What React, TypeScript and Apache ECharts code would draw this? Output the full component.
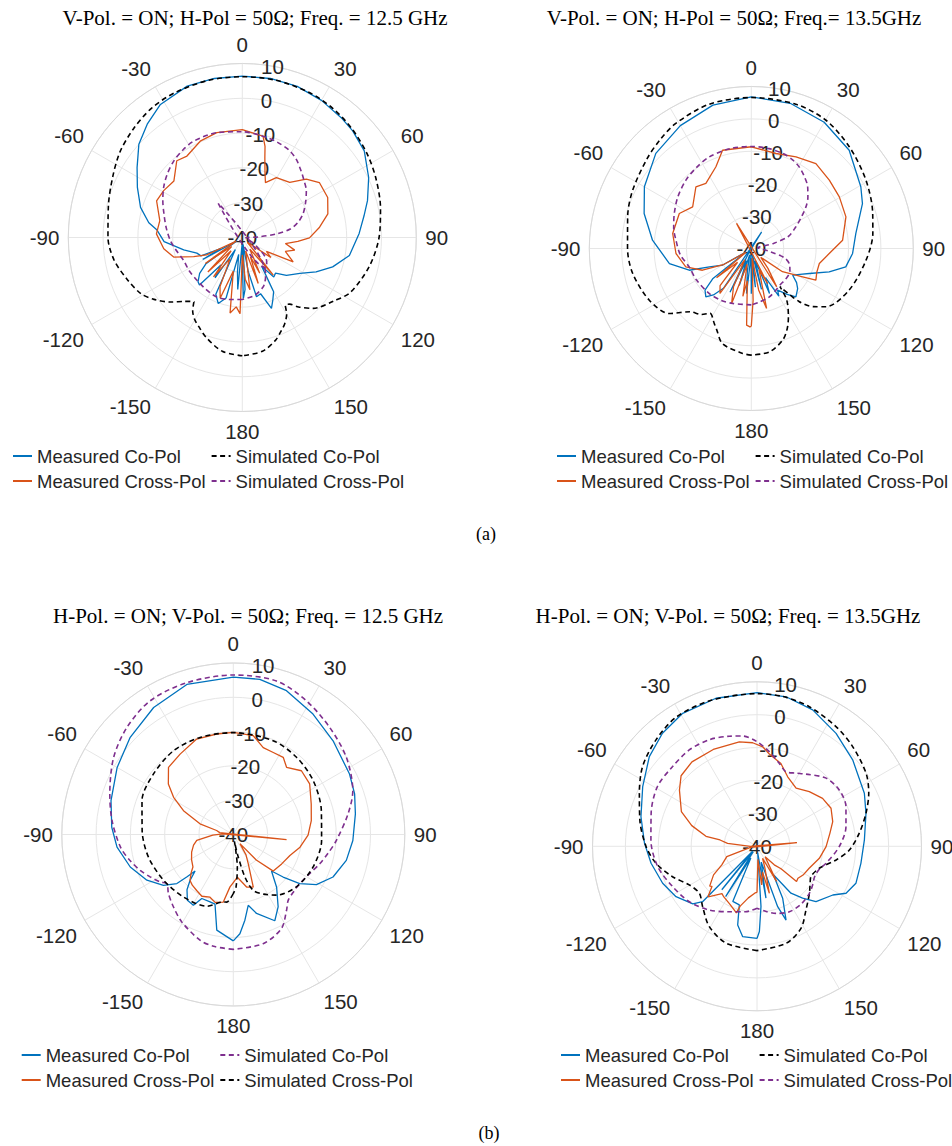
import { useEffect, useRef } from 'react';
import * as echarts from 'echarts';

// [angle (deg, clockwise from top), level (dB)]
type Pt = [number, number];

const ANGLE_MIN = -180;
const ANGLE_MAX = 180;
const ANGLE_STEP = 30;
const DB_MIN = -40;
const DB_MAX = 10;
const DB_STEP = 10;

const LEGEND_ORDER = ['Measured Co-Pol', 'Measured Cross-Pol', 'Simulated Co-Pol', 'Simulated Cross-Pol'];

// ---------- Panel 1: V-Pol ON, 12.5 GHz ----------
const p1MeasCo: Pt[] = [[-180,-33],[-178,-38],[-175,-25],[-172,-30],[-168,-35],[-165,-22],[-160,-19.8],[-155,-22],[-150,-36],[-146,-26],[-142,-30],[-138,-21.6],[-135,-22],[-130,-24],[-126,-27],[-122,-38],[-119,-27],[-117,-33],[-114,-27],[-109,-26.2],[-102,-22.8],[-93,-17.5],[-85,-15.4],[-81,-12.8],[-73.5,-9.5],[-64.5,-6.6],[-56.4,-3.7],[-48,0],[-40,2.5],[-31.6,4.9],[-20,6.3],[-10,6.4],[0,6.4],[10,6.4],[20,6.2],[30,5.5],[40,4.6],[46,4.1],[54.6,3],[64.6,0.2],[73.6,-2.5],[80,-4.5],[88,-6.4],[99.5,-8.8],[108,-12.7],[115,-16.6],[122,-20.5],[130.6,-23.3],[137,-26],[141.4,-25.5],[146,-30],[150,-22],[154,-20],[157.6,-18],[162,-23],[166.5,-22.5],[170,-30],[174,-38],[177,-25],[179,-22.5],[180,-33]];
const p1SimCo: Pt[] = [[-180,-6],[-170,-6.8],[-160,-9.5],[-154,-11.5],[-150,-12.7],[-146,-14.5],[-143,-16.9],[-138,-15.3],[-132,-12.3],[-125,-9],[-119,-6.7],[-110,-4.8],[-100,-2.6],[-90,-1.4],[-77,-0.5],[-65,1.1],[-55,2.9],[-45,4.2],[-35,5.4],[-25,5.9],[-12,6.2],[0,6.2],[12,6.2],[25,5.9],[35,5.3],[45,4.4],[56,3.2],[66,2],[78,0.6],[90,-0.7],[103,-2.6],[117,-5.2],[125,-8.1],[135,-11.2],[141,-14.3],[144.6,-16.5],[147.5,-17],[150,-14.5],[154,-12.3],[157,-11.1],[162,-9],[170,-6.8],[180,-6]];
const p1MeasX: Pt[] = [[-180,-35],[-178.3,-18.1],[-175,-20],[-170.8,-18],[-165,-30],[-160,-21.4],[-155.6,-24.5],[-150,-33],[-143.8,-26],[-140,-35],[-135,-26],[-130,-36],[-125,-27],[-120,-38],[-116,-28.6],[-111.5,-25],[-105.9,-19.5],[-98.2,-17.2],[-87.6,-15.3],[-78.4,-15.8],[-66.8,-13.2],[-59.2,-13.7],[-50.4,-14.5],[-40.5,-11],[-34.2,-11.7],[-23.6,-9.8],[-13.7,-9],[0,-9],[11.6,-10.3],[14,-13],[15.8,-16.2],[19,-20],[22.9,-22.9],[29.6,-20.2],[40.7,-19.1],[47.6,-15.1],[54.5,-12.8],[64.9,-12.9],[74.6,-14.5],[82.4,-17.6],[90.3,-20.7],[94,-24],[98,-27.5],[103.5,-24.5],[108,-27],[115.5,-23.8],[120,-32],[125,-30],[133,-38],[140.5,-26],[147,-36],[153.9,-28.6],[157,-34],[160.9,-26],[166,-36],[171.7,-24.8],[176,-28],[180,-35]];
const p1SimX: Pt[] = [[-180,-22.2],[-168,-21.8],[-156.7,-21.4],[-145,-21.8],[-133.3,-22.1],[-122,-22],[-111.3,-21.9],[-100,-20.5],[-92.4,-19.3],[-83,-18],[-73.3,-16.5],[-65,-14.8],[-57.5,-13.2],[-50,-11.8],[-41.9,-10.5],[-34,-9.6],[-26.8,-9],[-13.7,-9],[0,-9.6],[10,-10.2],[20,-10.8],[28.7,-11.6],[35,-12.8],[41.5,-14.5],[47,-15.8],[53.8,-17.2],[61,-19.2],[68.8,-21.3],[75,-23.5],[80,-26],[84,-30],[88,-35.5],[95,-39],[105,-38.5],[115,-37],[125,-34],[131,-31],[138,-29.5],[142,-29],[144.8,-52],[147.5,-27.5],[152,-26],[157,-24.6],[168,-23],[180,-22.2]];

// ---------- Panel 2: V-Pol ON, 13.5 GHz ----------
const p2MeasCo: Pt[] = [[-180,-26],[-178,-38],[-174,-26],[-170,-33],[-166,-38],[-162,-28],[-158,-36],[-154,-25],[-150,-38],[-148,-46],[-145,-25],[-140.8,-21.5],[-136.8,-19.5],[-131.9,-20.8],[-128,-25],[-124,-38],[-120,-29.8],[-113.6,-25.9],[-109.3,-19.7],[-100.4,-14.3],[-85.2,-9.4],[-71.9,-5.2],[-60,-1.9],[-45.1,1.6],[-30,3.8],[-15,5.8],[0,6.8],[15,6.4],[30,5],[44.9,2.8],[60.6,-1.2],[68,-3],[81.8,-7.4],[92.8,-8.7],[101,-10.3],[106.7,-14.9],[113.3,-20.5],[118,-23],[122.8,-24.8],[127,-22.5],[130.8,-21.1],[137.3,-19.7],[142,-22],[147.7,-24.8],[150,-23],[154,-30],[158,-25],[162,-36],[166,-27],[170,-38],[174,-28],[178,-37],[180,-26]];
const p2SimCo: Pt[] = [[-180,-7.1],[-175.3,-7.5],[-163.2,-9.3],[-157,-12.7],[-153.7,-14.2],[-147.5,-16.3],[-143,-14.5],[-135.9,-12.8],[-128.4,-7.7],[-116.9,-4.7],[-101.9,-2.6],[-90,-1.8],[-75.6,-0.6],[-63.8,0.8],[-49,2.5],[-40,3.8],[-31.1,5.1],[-16.2,6.4],[0,6.6],[17.1,6.6],[30.2,5.8],[43.9,3.6],[59.2,1.2],[73.9,-1],[82.9,-2.2],[95.8,-4.4],[113,-7.2],[128,-10.8],[133.2,-13.8],[138,-18],[143.1,-25.3],[145.5,-20.7],[151.5,-16],[156,-12.8],[161.1,-10.1],[170.1,-7.6],[180,-7.1]];
const p2MeasX: Pt[] = [[-180,-16],[-179,-15.8],[-176.5,-16.3],[-173,-30],[-170,-25],[-165,-35],[-160.3,-22],[-155,-27],[-150,-36],[-145.1,-23.1],[-140,-25],[-135,-34],[-130,-26],[-125,-38],[-120,-30],[-114,-23.5],[-105.7,-19],[-93.8,-16.7],[-79.2,-15.3],[-64.1,-15.3],[-54.6,-17.8],[-41.9,-14.4],[-34.9,-15.5],[-23.4,-12.5],[-16.3,-8.4],[0,-8.6],[14.6,-9.7],[26,-8.5],[37.3,-7.1],[48.8,-8],[59.6,-8.5],[71.5,-9.2],[84.8,-11.7],[93.7,-15.9],[102.4,-18.5],[110,-18.5],[116.1,-17.8],[118.9,-21.9],[126.7,-28],[133,-36],[140,-32],[146.5,-25.8],[149.6,-49],[155,-28],[160,-33],[165.7,-20.9],[170,-27],[175,-37],[178,-24],[180,-16]];
const p2SimX: Pt[] = [[-180,-22.6],[-161.3,-22.1],[-150,-21.5],[-137,-21],[-120,-20.5],[-106.5,-20],[-95,-18],[-83.7,-16.6],[-75,-15.2],[-65.6,-13.9],[-55,-12.3],[-43.7,-10.8],[-34,-9.8],[-24.6,-8.9],[-12,-8.5],[0,-8.5],[10,-8.7],[18.3,-9.1],[25,-9.8],[30.4,-10.8],[36,-12.3],[42.4,-14.2],[48,-16.5],[52.7,-18.8],[58,-21.8],[64,-24.7],[72,-28],[77,-33],[85,-38],[92,-37],[99.7,-34],[106,-29.2],[114,-27],[121,-26.1],[132,-25.8],[141.8,-25.7],[150,-25],[160,-24],[171.5,-23.3],[180,-22.6]];

// ---------- Panel 3: H-Pol ON, 12.5 GHz ----------
const p3MeasCo: Pt[] = [[-180,-9],[-170.2,-11.7],[-165.3,-19],[-161,-19.2],[-153.8,-19.2],[-150.6,-16.3],[-145.1,-16.6],[-140,-19],[-136.7,-21.6],[-133.7,-24.6],[-132.4,-21.6],[-131,-18.2],[-126.1,-14.8],[-117.9,-11.5],[-107.5,-8.5],[-96.2,-5.9],[-86.6,-4.5],[-74.5,-3],[-60,-0.9],[-46.7,1.3],[-32.1,3.7],[-17.2,5.8],[0,5.9],[9.7,5.9],[20.3,4.7],[33.5,2.1],[46.8,-0.1],[62.5,-1.8],[71.5,-2.7],[80.4,-3.9],[92.9,-5.1],[102.9,-6.2],[113.1,-8.4],[121.1,-11.7],[126.5,-15.9],[130.5,-20.9],[133.7,-24.6],[140.6,-20.1],[148.2,-15.2],[154.3,-12.1],[163.6,-16],[168.1,-18.9],[172.3,-14.8],[176.2,-11],[180,-9]];
const p3SimCo: Pt[] = [[-180,-6.5],[-170,-6.9],[-162.5,-7.7],[-149.5,-10.4],[-140.5,-12.6],[-132.4,-14.4],[-126.5,-15.9],[-123,-14.6],[-117,-12.8],[-111.1,-10.9],[-104,-8.9],[-96.4,-6.9],[-83.4,-4.4],[-71.8,-2.1],[-57.2,1.5],[-44.8,4],[-31.9,5.9],[-17,6.3],[0,6.5],[15.7,6.5],[28.7,4.4],[42,2],[55.7,-0.1],[69.9,-2.9],[79.8,-6],[93.3,-9.9],[101,-11.8],[108.7,-13.4],[117.2,-15],[126.5,-15.9],[133,-15.8],[140.2,-15],[144.9,-13],[152.9,-9.2],[164.7,-7],[180,-6.5]];
const p3MeasX: Pt[] = [[-180,-26],[-176.4,-24.7],[-171.6,-20.1],[-165,-19.5],[-159.6,-20.5],[-153,-19.8],[-146.8,-20.5],[-141,-21],[-136.7,-21.6],[-132,-23.5],[-128.8,-24.9],[-121,-25.8],[-113,-26.8],[-105,-28],[-99.3,-29.2],[-92,-34],[-86.5,-37],[-84.6,-55.6],[-82,-36],[-76.5,-35],[-72.3,-29.8],[-64.4,-23.9],[-58.1,-19.5],[-52.1,-16],[-44,-12.8],[-33.5,-11.9],[-21,-10.2],[-9.4,-10.3],[0,-10.2],[11.4,-10.6],[19,-13.2],[26,-13.4],[32.9,-13.2],[38.4,-15],[46.9,-12.8],[56.5,-13.3],[68.6,-15.6],[79.9,-16.9],[90.5,-18.2],[100.8,-20.2],[110.3,-22.4],[121.3,-23.5],[132.5,-24.2],[138,-30],[144,-36.7],[148,-33],[152.9,-30.4],[159.2,-23.6],[165.8,-24.2],[170,-26],[174.6,-27.5],[180,-26]];
const p3SimX: Pt[] = [[-180,-22.8],[-174.4,-20.2],[-171.6,-20.1],[-159.7,-17.7],[-141.4,-16.7],[-123.3,-15.7],[-104.9,-14.4],[-87.5,-13.4],[-69.6,-11.6],[-52.8,-10.8],[-35.5,-10],[-18.9,-10.1],[0,-10.3],[23,-10.3],[39.3,-10.9],[56,-11.9],[74.8,-13.4],[93.9,-14.2],[112.2,-14.9],[129.7,-16.1],[144.6,-18.3],[153,-20.5],[160.3,-22.7],[164.7,-27.1],[168,-34],[170.5,-38],[173,-30.4],[177,-24.7],[180,-22.8]];

// ---------- Panel 4: H-Pol ON, 13.5 GHz ----------
const p4MeasCo: Pt[] = [[-180,-12],[-171,-12.2],[-166.2,-15.4],[-163.2,-21.4],[-156.3,-21.7],[-152,-36],[-148,-22],[-145,-38],[-141,-23],[-138,-38],[-135.5,-16.4],[-131.9,-13.8],[-121.9,-11],[-111.4,-9.2],[-99.1,-7.4],[-88.5,-5.8],[-75.7,-3.6],[-62.4,-0.8],[-50.2,2.6],[-39.9,4.8],[-29.2,6.3],[-15.5,6.7],[0,6.7],[11,6.3],[22.2,4.8],[35,1.9],[47.9,-0.8],[63.7,-3.6],[73.2,-5.4],[86.6,-7.3],[99.3,-8],[110.5,-7.9],[117.8,-9.4],[122.7,-12.6],[133.2,-15.4],[138.7,-19],[144.1,-22.4],[150,-30],[153.7,-22.4],[158.5,-15.9],[161.1,-20.6],[165,-35],[170.2,-24],[174,-38],[176.2,-21.7],[178.4,-14.1],[180,-12]];
const p4SimCo: Pt[] = [[-180,-8.3],[-162.3,-9.1],[-149.3,-11.6],[-138,-15.3],[-129.2,-17.4],[-119.7,-16.3],[-109.8,-12.7],[-99.6,-8.9],[-90.2,-6.3],[-77.3,-3.5],[-65.8,-0.8],[-55.1,2.4],[-43.5,4.6],[-32,6.3],[-18,6.5],[0,6.4],[9.7,6.2],[20.5,5.3],[33.4,3.6],[43.8,2],[56.2,-0.1],[64.6,-2.4],[73.2,-5.4],[82.8,-8.7],[92.3,-11.9],[99.8,-15.6],[109.4,-19.9],[119.3,-21.2],[124,-20.5],[131.9,-18.6],[142.4,-15.6],[151.8,-11.7],[163.4,-9.2],[180,-8.3]];
const p4MeasX: Pt[] = [[-180,-26],[-177.6,-25.8],[-170.5,-24.1],[-164.3,-21.1],[-162.8,-18.8],[-155.3,-20.5],[-146.8,-21.6],[-143.5,-22.1],[-137,-19.2],[-135.8,-18.6],[-131.7,-21.7],[-130.1,-21.2],[-123.3,-24.2],[-117.8,-27.9],[-108.8,-30.3],[-100,-38],[-95.2,-52.2],[-90,-38],[-84.5,-31],[-80.3,-28.6],[-78.9,-24.2],[-72.4,-19.2],[-65.3,-14.7],[-54.1,-10.9],[-47.1,-8.5],[-37.6,-7.6],[-24.3,-7.7],[-9.6,-7.8],[-2.4,-8.5],[3.3,-9.7],[7.6,-11.7],[16.1,-13.8],[23.8,-16.9],[33.9,-18.7],[43.7,-17],[53.8,-15.3],[62.8,-14.7],[72,-15.8],[79.9,-17.5],[90.3,-19],[100.9,-20.7],[112.8,-22.8],[122,-23.5],[128,-24.2],[131.7,-23.9],[133,-30],[137.1,-32.3],[142,-36],[150.9,-27.8],[155,-36],[160,-33],[165.3,-25.2],[168,-32],[173.1,-28.2],[176,-36],[180,-26]];
const p4SimX: Pt[] = [[-180,-21.2],[-170,-19.8],[-157,-18.4],[-143.2,-15.8],[-129.3,-13.4],[-115.6,-11.6],[-101.6,-9.2],[-86.6,-7.7],[-72.7,-6.3],[-59,-4.7],[-46.6,-4.7],[-35.1,-4.2],[-24.1,-4.5],[-14.1,-5.5],[-7.4,-6.2],[0,-8.2],[7.4,-11],[15.1,-13.9],[21.2,-15.7],[28,-14.8],[34.1,-13.5],[45.4,-10.5],[55.6,-9.7],[66,-10.4],[77.5,-12.3],[90.2,-15],[103.8,-18.4],[110,-19.8],[117.9,-20.2],[124,-19.5],[131.9,-18.6],[142.7,-17.9],[153.7,-17.8],[164.2,-18.8],[172,-20],[180,-21.2]];

const BLUE = '#0072BD';
const ORANGE = '#D95319';
const BLACK = '#000000';
const PURPLE = '#7E2F8E';
const TEXT = '#262626';
const SANS = '"Liberation Sans", Arial, Helvetica, sans-serif';
const SERIF = '"Liberation Serif", "Times New Roman", serif';

type Curve = { name: string; data: Pt[]; color: string; dashed: boolean };
type Panel = {
  title: string;
  titleAt: [number, number];
  center: [number, number];
  radius: number;
  legendAt: [number, number];
  curves: Curve[];
};

const panels: Panel[] = [
  {
    title: 'V-Pol. = ON; H-Pol = 50\u03A9; Freq. = 12.5 GHz',
    titleAt: [255, 18],
    center: [242.3, 237.5],
    radius: 174,
    legendAt: [12, 446],
    curves: [
      { name: 'Measured Co-Pol', data: p1MeasCo, color: BLUE, dashed: false },
      { name: 'Simulated Co-Pol', data: p1SimCo, color: BLACK, dashed: true },
      { name: 'Measured Cross-Pol', data: p1MeasX, color: ORANGE, dashed: false },
      { name: 'Simulated Cross-Pol', data: p1SimX, color: PURPLE, dashed: true },
    ],
  },
  {
    title: 'V-Pol. = ON; H-Pol = 50\u03A9; Freq.= 13.5GHz',
    titleAt: [734, 18],
    center: [751.3, 248.5],
    radius: 162,
    legendAt: [556, 446],
    curves: [
      { name: 'Measured Co-Pol', data: p2MeasCo, color: BLUE, dashed: false },
      { name: 'Simulated Co-Pol', data: p2SimCo, color: BLACK, dashed: true },
      { name: 'Measured Cross-Pol', data: p2MeasX, color: ORANGE, dashed: false },
      { name: 'Simulated Cross-Pol', data: p2SimX, color: PURPLE, dashed: true },
    ],
  },
  {
    title: 'H-Pol. = ON; V-Pol. = 50\u03A9; Freq. = 12.5 GHz',
    titleAt: [248, 616],
    center: [233.3, 834.5],
    radius: 171.5,
    legendAt: [20.7, 1045],
    curves: [
      { name: 'Measured Co-Pol', data: p3MeasCo, color: BLUE, dashed: false },
      { name: 'Simulated Co-Pol', data: p3SimCo, color: PURPLE, dashed: true },
      { name: 'Measured Cross-Pol', data: p3MeasX, color: ORANGE, dashed: false },
      { name: 'Simulated Cross-Pol', data: p3SimX, color: BLACK, dashed: true },
    ],
  },
  {
    title: 'H-Pol. = ON; V-Pol. = 50\u03A9; Freq. = 13.5GHz',
    titleAt: [728, 616],
    center: [757, 846.3],
    radius: 164.5,
    legendAt: [560, 1045],
    curves: [
      { name: 'Measured Co-Pol', data: p4MeasCo, color: BLUE, dashed: false },
      { name: 'Simulated Co-Pol', data: p4SimCo, color: BLACK, dashed: true },
      { name: 'Measured Cross-Pol', data: p4MeasX, color: ORANGE, dashed: false },
      { name: 'Simulated Cross-Pol', data: p4SimX, color: PURPLE, dashed: true },
    ],
  },
];

const captions: { text: string; at: [number, number] }[] = [
  { text: '(a)', at: [486, 534] },
  { text: '(b)', at: [489, 1133] },
];

const SEP = '|';

function buildOption(): any {
  const polar: any[] = [];
  const angleAxis: any[] = [];
  const radiusAxis: any[] = [];
  const series: any[] = [];
  const legend: any[] = [];
  const graphic: any[] = [];
  const n = panels.length;

  panels.forEach((p, i) => {
    polar.push({ center: p.center, radius: p.radius });
    angleAxis.push({
      polarIndex: i,
      type: 'value',
      min: ANGLE_MIN,
      max: ANGLE_MAX,
      interval: ANGLE_STEP,
      startAngle: 270,
      clockwise: true,
      axisLine: { show: true, lineStyle: { color: '#d9d9d9', width: 1 } },
      axisTick: { show: false },
      axisLabel: {
        show: true,
        margin: 9,
        fontSize: 20.5,
        color: TEXT,
        fontFamily: SANS,
        formatter: (v: number) => String(Math.abs(v) === 180 ? 180 : v),
      },
      splitLine: { show: true, lineStyle: { color: '#e6e6e6', width: 1 } },
    });
    radiusAxis.push({
      polarIndex: i,
      type: 'value',
      min: DB_MIN,
      max: DB_MAX,
      interval: DB_STEP,
      axisLine: { show: false },
      axisTick: { show: false },
      axisLabel: { show: false },
      splitLine: { show: true, lineStyle: { color: '#e6e6e6', width: 1 } },
    });

    p.curves.forEach((c, j) => {
      series.push({
        type: 'line',
        coordinateSystem: 'polar',
        polarIndex: i,
        name: `P${i + 1}${SEP}${c.name}`,
        data: c.data.map(([a, d]) => [d, a]),
        showSymbol: false,
        symbol: 'none',
        smooth: c.dashed ? 0.3 : false,
        lineStyle: { color: c.color, width: c.dashed ? 1.6 : 1.3, type: c.dashed ? [5, 3.5] : 'solid' },
        itemStyle: { color: c.color },
        z: 2 + j,
        animation: false,
      });
    });

    legend.push({
      orient: 'vertical',
      left: p.legendAt[0],
      top: p.legendAt[1],
      height: 46,
      padding: 0,
      itemWidth: 19,
      itemHeight: 14,
      itemGap: 5,
      selectedMode: false,
      itemStyle: { opacity: 0, borderWidth: 0 },
      data: LEGEND_ORDER.map((nm) => `P${i + 1}${SEP}${nm}`),
      formatter: (name: string) => name.split(SEP)[1],
      textStyle: { fontSize: 18.5, color: TEXT, fontFamily: SANS, lineHeight: 20 },
    });

    graphic.push({
      type: 'text',
      x: p.titleAt[0],
      y: p.titleAt[1],
      style: {
        text: p.title,
        fill: '#000',
        font: `21px ${SERIF}`,
        align: 'center',
        verticalAlign: 'middle',
      },
    });
  });

  // radial tick labels along the 10-degree ray
  panels.forEach((p, i) => {
    const k = n + i;
    polar.push({ center: p.center, radius: p.radius });
    angleAxis.push({ polarIndex: k, type: 'value', min: 0, max: 360, startAngle: 80, show: false });
    radiusAxis.push({
      polarIndex: k,
      type: 'value',
      min: DB_MIN,
      max: DB_MAX,
      interval: DB_STEP,
      axisLine: { show: false },
      axisTick: { show: false },
      splitLine: { show: false },
      axisLabel: {
        show: true,
        margin: 0,
        align: 'center',
        verticalAlign: 'middle',
        fontSize: 20.5,
        color: TEXT,
        fontFamily: SANS,
        showMinLabel: true,
        showMaxLabel: true,
      },
    });
  });

  captions.forEach((c) => {
    graphic.push({
      type: 'text',
      x: c.at[0],
      y: c.at[1],
      style: { text: c.text, fill: '#000', font: `18px ${SERIF}`, align: 'center', verticalAlign: 'middle' },
    });
  });

  return {
    animation: false,
    backgroundColor: '#ffffff',
    polar,
    angleAxis,
    radiusAxis,
    legend,
    series,
    graphic,
  };
}

export default function App() {
  const ref = useRef<HTMLDivElement>(null);
  useEffect(() => {
    document.body.style.margin = '0';
    const chart = echarts.init(ref.current as HTMLDivElement, null, { renderer: 'svg' });
    chart.setOption(buildOption());
    return () => chart.dispose();
  }, []);
  return <div ref={ref} style={{ width: 952, height: 1146 }} />;
}
